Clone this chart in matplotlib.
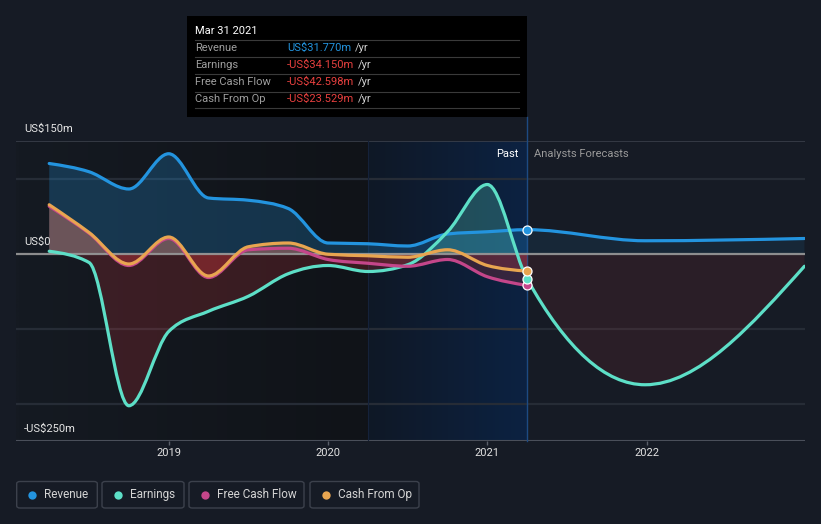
import numpy as np
import matplotlib
matplotlib.use("Agg")
import matplotlib.pyplot as plt
from matplotlib.path import Path
from matplotlib.patches import PathPatch, Rectangle, FancyBboxPatch
from matplotlib.lines import Line2D

plt.rcParams['font.family'] = ['Roboto', 'DejaVu Sans']

# ---------------- data ----------------
quarters = [2018.25, 2018.5, 2018.75, 2019.0, 2019.25, 2019.5, 2019.75,
            2020.0, 2020.25, 2020.5, 2020.75, 2021.0, 2021.25]
forecast_dates = [2021.99, 2022.99]

revenue = [120, 109, 86, 133, 74, 71, 60, 14, 13, 10, 26, 29, 31.77]
revenue_fc = [17, 20]
earnings = [3, -12, -203, -104, -77, -57, -27, -16, -24, -15, 29, 92, -34.15]
earnings_fc = [-175, -17]
free_cash_flow = [63, 27, -16, 20, -32, 5, 7, -8, -13, -17, -8, -31, -42.598]
cash_from_op = [65, 28, -14, 22, -30, 9, 14, -1, -3, -5, 5, -16, -23.529]

series_names = ["Revenue", "Earnings", "Free Cash Flow", "Cash From Op"]
series_colors = ["#2394df", "#5ddfc7", "#c4468a", "#e8a550"]

year_ticks = [2019, 2020, 2021, 2022]
y_labels = [(150, "US$150m"), (0, "US$0"), (-250, "-US$250m")]
tooltip_date = "Mar 31 2021"
tooltip_rows = [("Revenue", "US$31.770m", "#2394df"),
                ("Earnings", "-US$34.150m", "#e8403f"),
                ("Free Cash Flow", "-US$42.598m", "#e8403f"),
                ("Cash From Op", "-US$23.529m", "#e8403f")]

# ---------------- layout ----------------
W, H = 821, 524
BG = "#161b25"
fig = plt.figure(figsize=(W / 100, H / 100), dpi=100, facecolor=BG)
ax = fig.add_axes([16 / W, 83 / H, 789 / W, 300 / H])
ax.set_facecolor(BG)
XMIN, XMAX = 2018.0416, 2022.9935
YMIN, YMAX = -250, 150
NOW = 2021.25
PAST_START = 2020.25
for s in ax.spines.values():
    s.set_visible(False)


def px_to_fig(x, y):
    return x / W, 1 - y / H


# background shading
def hgrad(c0, c1, n=64):
    c0 = np.array(matplotlib.colors.to_rgb(c0))
    c1 = np.array(matplotlib.colors.to_rgb(c1))
    t = np.linspace(0, 1, n)[None, :, None]
    return c0[None, None, :] * (1 - t) + c1[None, None, :] * t

ax.imshow(hgrad("#151a22", "#101318"), extent=[XMIN, PAST_START, YMIN, YMAX],
          aspect='auto', zorder=0, interpolation='bilinear')
ax.imshow(hgrad("#0f1826", "#0c2242"), extent=[PAST_START, NOW, YMIN, YMAX],
          aspect='auto', zorder=0, interpolation='bilinear')
ax.set_xlim(XMIN, XMAX)
ax.set_ylim(YMIN, YMAX)

# grid lines
for v in [100, -100, -200]:
    ax.axhline(v, color="#262c36", lw=1.6, zorder=1)
ax.axhline(150, color="#3a3f4a", lw=1.2, zorder=1)
ax.axhline(-250, color="#4a4f5a", lw=1.5, zorder=1)
ax.axvline(PAST_START, color="#15223a", lw=0.8, zorder=1)
ax.plot([NOW, NOW], [YMIN, 182], color="#1d4a82", lw=1.0, zorder=1, clip_on=False)


# ---------------- smooth curves (monotone X, cubic Bezier) ----------------
def monotone_bezier(xs, ys):
    xs = np.asarray(xs, float)
    ys = np.asarray(ys, float)
    n = len(xs)
    h = np.diff(xs)
    s = np.diff(ys) / h
    t = np.zeros(n)
    for i in range(1, n - 1):
        h0, h1, s0, s1 = h[i - 1], h[i], s[i - 1], s[i]
        p = (s0 * h1 + s1 * h0) / (h0 + h1)
        t[i] = (np.sign(s0) + np.sign(s1)) * min(abs(s0), abs(s1), 0.5 * abs(p))
    if n > 2:
        t[0] = (3 * s[0] - t[1]) / 2
        t[-1] = (3 * s[-1] - t[-2]) / 2
    else:
        t[0] = t[-1] = s[0]
    verts = [(xs[0], ys[0])]
    codes = [Path.MOVETO]
    for i in range(n - 1):
        d = h[i] / 3
        verts += [(xs[i] + d, ys[i] + d * t[i]),
                  (xs[i + 1] - d, ys[i + 1] - d * t[i + 1]),
                  (xs[i + 1], ys[i + 1])]
        codes += [Path.CURVE4] * 3
    return verts, codes


def clip_rect(x0, x1, y0, y1):
    return Rectangle((x0, y0), x1 - x0, y1 - y0, transform=ax.transData)


all_series = [
    (quarters + forecast_dates, revenue + revenue_fc),
    (quarters + forecast_dates, earnings + earnings_fc),
    (quarters, free_cash_flow),
    (quarters, cash_from_op),
]
RED = "#dc3a3f"
line_z = [5, 6, 7, 8]
for (xs, ys), col, z in zip(all_series, series_colors, line_z):
    verts, codes = monotone_bezier(xs, ys)
    fverts = verts + [(xs[-1], 0), (xs[0], 0), (xs[0], 0)]
    fcodes = codes + [Path.LINETO, Path.LINETO, Path.CLOSEPOLY]
    fpath = Path(fverts, fcodes)
    parts = [((XMIN, NOW), (0, 400), col, 0.25),
             ((XMIN, NOW), (-400, 0), RED, 0.2),
             ((NOW, XMAX), (0, 400), col, 0.10),
             ((NOW, XMAX), (-400, 0), RED, 0.10)]
    for (x0, x1), (y0, y1), c, a in parts:
        pp = PathPatch(fpath, facecolor=c, edgecolor='none', alpha=a, zorder=2)
        ax.add_patch(pp)
        pp.set_clip_path(clip_rect(x0, x1, y0, y1))
    lp = PathPatch(Path(verts, codes), facecolor='none', edgecolor=col, lw=2.3,
                   zorder=z, capstyle='round', joinstyle='round')
    ax.add_patch(lp)

ax.axhline(0, color="#9a9a9a", lw=1.6, zorder=4, alpha=0.9)

# markers at latest actual
last_vals = [revenue[-1], earnings[-1], free_cash_flow[-1], cash_from_op[-1]]
for i in [0, 2, 1, 3]:
    ax.plot([NOW], [last_vals[i]], 'o', ms=6.5, mfc=series_colors[i], mec="white",
            mew=0.9, zorder=10, clip_on=False)

# axis ticks
ax.set_xticks(year_ticks)
ax.set_xticklabels([str(y) for y in year_ticks])
ax.tick_params(axis='x', length=3, width=1, color="#5a5f6a", labelcolor="#e2e2e2",
               labelsize=8, pad=2)
ax.set_yticks([])

for v, lab in y_labels:
    ax.annotate(lab, xy=(0, v), xycoords=('axes fraction', 'data'),
                xytext=(5.8, 8.6), textcoords='offset points', va='center',
                ha='left', color="#e6e6e6", fontsize=8, zorder=12)

# Past / Analysts Forecasts
fig.text(*px_to_fig(518, 153.5), "Past", color="#ffffff", fontsize=8,
         ha='right', va='center')
fig.text(*px_to_fig(534, 153.5), "Analysts Forecasts", color="#9a9a9a", fontsize=8,
         ha='left', va='center')

# ---------------- tooltip ----------------
tx0, ty0, tx1, ty1 = 187, 16, 527, 117
fig.patches.append(Rectangle(px_to_fig(tx0, ty1), (tx1 - tx0) / W, (ty1 - ty0) / H,
                             transform=fig.transFigure, facecolor="#000000",
                             edgecolor='none', zorder=20))
fig.text(*px_to_fig(195, 31.5), tooltip_date, color="#ffffff", fontsize=8,
         ha='left', va='center', zorder=21)
for yy in [40, 57, 74, 91.5, 108]:
    fig.add_artist(Line2D([195 / W, 519 / W], [1 - yy / H, 1 - yy / H],
                          transform=fig.transFigure, color="#3a3a3a", lw=0.8, zorder=21))
row_y = [48.3, 65, 82.3, 99.3]
for (lab, val, vc), yy in zip(tooltip_rows, row_y):
    fig.text(*px_to_fig(195, yy), lab, color="#9e9e9e", fontsize=8, ha='left',
             va='center', zorder=21)
    t = fig.text(*px_to_fig(287, yy), val, color=vc, fontsize=8, ha='left',
                 va='center', zorder=21)
    fig.canvas.draw()
    bb = t.get_window_extent()
    fig.text((bb.x1 + 4) / W, 1 - yy / H, "/yr", color="#cfcfcf", fontsize=8,
             ha='left', va='center', zorder=21)

# ---------------- legend ----------------
leg_boxes = [(16.7, 97.3), (102, 184), (189, 304), (310, 419)]
ly0, ly1 = 481.5, 508
for (x0, x1), name, col in zip(leg_boxes, series_names, series_colors):
    fig.patches.append(FancyBboxPatch(px_to_fig(x0, ly1), (x1 - x0) / W, (ly1 - ly0) / H,
                                      boxstyle="round,pad=0,rounding_size=0.004",
                                      transform=fig.transFigure, facecolor='none',
                                      edgecolor="#3c414c", lw=1.0))
    cy = (ly0 + ly1) / 2
    fig.add_artist(Line2D([(x0 + 15.5) / W], [1 - cy / H], marker='o', ms=6,
                          mfc=col, mec='none', transform=fig.transFigure))
    fig.text((x0 + 27.5) / W, 1 - cy / H, name, color="#d4d4d4", fontsize=8.5,
             ha='left', va='center')

fig.savefig("out.png", dpi=100, facecolor=BG)
